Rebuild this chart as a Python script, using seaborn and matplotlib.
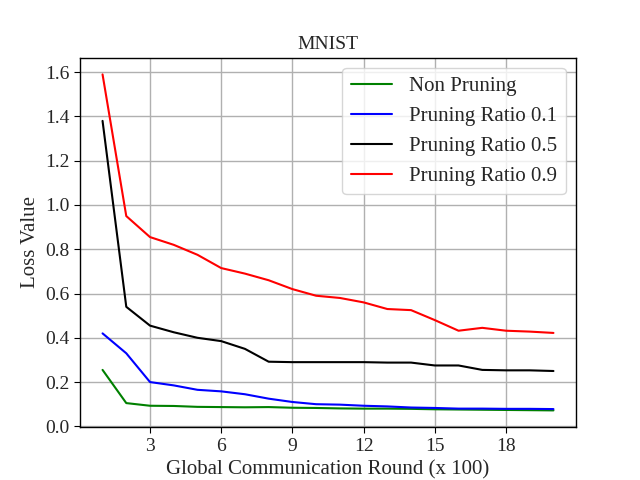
import numpy as np
import pandas as pd
import matplotlib
matplotlib.use('Agg')
import matplotlib.pyplot as plt
import seaborn as sns

rounds = list(range(1, 21))
non_pruning = [0.255, 0.105, 0.093, 0.092, 0.088, 0.087, 0.086, 0.087, 0.084, 0.083,
               0.081, 0.080, 0.080, 0.079, 0.077, 0.076, 0.075, 0.074, 0.073, 0.072]
ratio_01 = [0.42, 0.33, 0.20, 0.185, 0.165, 0.158, 0.145, 0.125, 0.11, 0.10,
            0.098, 0.093, 0.090, 0.085, 0.083, 0.080, 0.080, 0.079, 0.079, 0.078]
ratio_05 = [1.38, 0.54, 0.455, 0.425, 0.40, 0.385, 0.35, 0.292, 0.29, 0.29,
            0.29, 0.29, 0.288, 0.288, 0.275, 0.275, 0.255, 0.253, 0.253, 0.25]
ratio_09 = [1.59, 0.95, 0.855, 0.82, 0.775, 0.715, 0.69, 0.66, 0.62, 0.59,
            0.58, 0.56, 0.53, 0.525, 0.48, 0.432, 0.445, 0.432, 0.428, 0.422]

labels = ['Non Pruning', 'Pruning Ratio 0.1', 'Pruning Ratio 0.5', 'Pruning Ratio 0.9']
colors = ['green', 'blue', 'black', 'red']

df = pd.DataFrame({'round': rounds * 4,
                   'loss': non_pruning + ratio_01 + ratio_05 + ratio_09,
                   'method': sum([[l] * len(rounds) for l in labels], [])})

sns.set_style('whitegrid', {'grid.color': '#b0b0b0', 'axes.edgecolor': 'black'})
plt.rcParams['font.family'] = ['Liberation Serif', 'DejaVu Serif']
plt.rcParams['mathtext.fontset'] = 'stix'

fig, ax = plt.subplots(figsize=(6.4, 4.8), dpi=100)
sns.lineplot(data=df, x='round', y='loss', hue='method', palette=colors, ax=ax, linewidth=1.5)

ax.set_xticks([3, 6, 9, 12, 15, 18])
ax.set_title('MNIST', fontsize=14)
ax.set_xlabel('Global Communication Round (x 100)', fontsize=15)
ax.set_ylabel('Loss Value', fontsize=15)
ax.tick_params(labelsize=14, length=4, color='black', bottom=True, left=True)
ax.grid(True, linewidth=1)
for s in ax.spines.values():
    s.set_linewidth(1.0)
ax.legend(loc='upper right', fontsize=15, title=None)

fig.savefig('out.png', dpi=100)
